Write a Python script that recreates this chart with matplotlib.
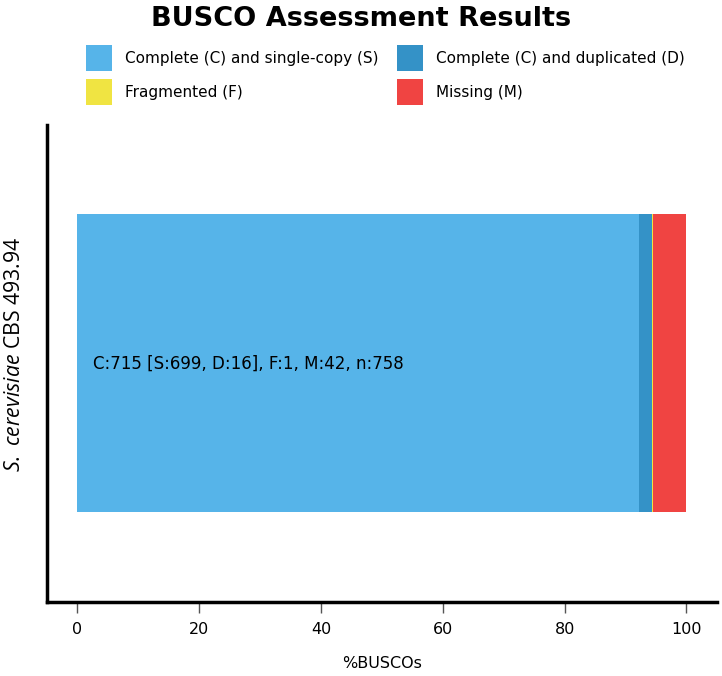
import matplotlib.pyplot as plt
from matplotlib.patches import Patch

# BUSCO summary for one assembly
species = "S. cerevisiae"
strain = "CBS 493.94"
n_total = 758
single = 699
duplicated = 16
fragmented = 1
missing = 42

categories = ["Complete (C) and single-copy (S)", "Complete (C) and duplicated (D)",
              "Fragmented (F)", "Missing (M)"]
counts = [single, duplicated, fragmented, missing]
colors = ["#56B4E9", "#3492C7", "#F0E442", "#F04442"]

percent = [100.0 * c / n_total for c in counts]

plt.rcParams["mathtext.fontset"] = "custom"
plt.rcParams["mathtext.it"] = "Open Sans:italic"
plt.rcParams["mathtext.rm"] = "Open Sans"

fig = plt.figure(figsize=(7.22, 6.76), dpi=100)
ax = fig.add_axes([0.065, 0.11, 0.928, 0.705])

left = 0.0
for p, col in zip(percent, colors):
    ax.barh(0, p, left=left, height=1.0, color=col, edgecolor="none")
    left += p

summary = f"C:{single + duplicated} [S:{single}, D:{duplicated}], F:{fragmented}, M:{missing}, n:{n_total}"
ax.text(2.5, 0, summary, va="center", ha="left", fontsize=12, color="black")

ax.set_xlim(-5, 105)
ax.set_ylim(-0.8, 0.8)
ax.set_yticks([])
ax.set_xticks([0, 20, 40, 60, 80, 100])
ax.tick_params(axis="x", length=8, width=1, labelsize=11.5, pad=7, color="#555555")
ax.set_xlabel("%BUSCOs", fontsize=11.5, labelpad=13)
sp = species.replace(" ", "\\ ")
ax.set_ylabel(f"$\\mathit{{{sp}}}$ {strain}", fontsize=15.3, family="Open Sans")
ax.yaxis.set_label_coords(-0.032, 0.519)

for s in ["top", "right"]:
    ax.spines[s].set_visible(False)
for s in ["left", "bottom"]:
    ax.spines[s].set_linewidth(2.5)

# legend is filled column by column, so reorder to get S, D on the first row
order = [0, 2, 1, 3]
handles = [Patch(facecolor=colors[i], edgecolor="none") for i in order]
labels = [categories[i] for i in order]
fig.legend(handles, labels, ncol=2, loc="center", bbox_to_anchor=(385.5 / 722, 1 - 75 / 676),
           frameon=False, fontsize=11, handlelength=1.7, handleheight=2.24,
           columnspacing=1.25, handletextpad=0.85, labelspacing=0.5)

fig.text(0.5, 1 - 19 / 676, "BUSCO Assessment Results", fontsize=19.5, fontweight="bold",
         ha="center", va="center")

fig.savefig("out.png", dpi=100)
